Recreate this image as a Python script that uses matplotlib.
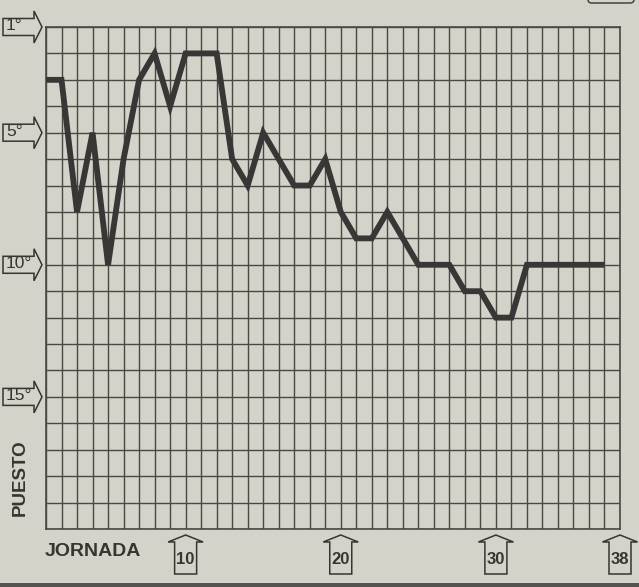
import matplotlib
matplotlib.use("Agg")
import matplotlib.pyplot as plt
from matplotlib import font_manager
from matplotlib.patches import Polygon, Rectangle, FancyBboxPatch
from matplotlib.transforms import ScaledTranslation

# puesto en la clasificacion tras cada jornada
JORNADAS = list(range(1, 38))
PUESTOS = [3, 3, 8, 5, 10, 6, 3, 2, 4, 2, 2, 2, 6, 7, 5, 6, 7, 7, 6, 8,
           9, 9, 8, 9, 10, 10, 10, 11, 11, 12, 12, 10, 10, 10, 10, 10, 10]

N_JORNADAS = 38
N_PUESTOS = 20
PUESTO_MARCAS = [1, 5, 10, 15]
JORNADA_MARCAS = [10, 20, 30, 38]

BG = "#d5d2c9"
INK = "#363532"
GRID = "#4a4844"

names = {f.name for f in font_manager.fontManager.ttflist}
NARROW = "Liberation Sans Narrow" if "Liberation Sans Narrow" in names else "Liberation Sans"
plt.rcParams["font.family"] = ["Liberation Sans", "DejaVu Sans"]

W, H = 639, 587
fig = plt.figure(figsize=(W / 100, H / 100), dpi=100, facecolor=BG)
ax = fig.add_axes([46 / W, 1 - 529 / H, (620 - 46) / W, (529 - 27) / H])
ax.set_facecolor(BG)

ax.set_xlim(1, N_JORNADAS)
ax.set_ylim(N_PUESTOS, 1)
ax.set_xticks(range(1, N_JORNADAS + 1))
ax.set_yticks(range(1, N_PUESTOS + 1))
ax.grid(True, color=GRID, lw=1.0)
ax.tick_params(length=0, labelbottom=False, labelleft=False)
for s in ax.spines.values():
    s.set_color(GRID)
    s.set_linewidth(1.2)

ax.plot(JORNADAS, PUESTOS, color="#383735", lw=4.2,
        solid_joinstyle="miter", solid_capstyle="butt", zorder=5, clip_on=False)


def offset_tr(x, y):
    return fig.dpi_scale_trans + ScaledTranslation(x, y, ax.transData)


# flechas de la izquierda (puestos)
left_shape = [(-43, -8.5), (-12, -8.5), (-12, -16), (-4, 0),
              (-12, 16), (-12, 8.5), (-43, 8.5)]
for p in PUESTO_MARCAS:
    poly = Polygon([(a / 100, b / 100) for a, b in left_shape], closed=True,
                   facecolor=BG, edgecolor=INK, lw=1.1,
                   transform=offset_tr(1, p), clip_on=False)
    ax.add_artist(poly)
    ax.annotate(f"{p}°", xy=(1, p), xycoords="data", xytext=(-40, 1),
                textcoords="offset pixels", ha="left", va="center",
                fontsize=12.5, color=INK, annotation_clip=False)

# flechas de abajo (jornadas)
bottom_shape = [(-11, -45), (11, -45), (11, -13), (17.5, -13), (0, -6),
                (-17.5, -13), (-11, -13)]
for j in JORNADA_MARCAS:
    poly = Polygon([(a / 100, b / 100) for a, b in bottom_shape], closed=True,
                   facecolor=BG, edgecolor=INK, lw=1.1,
                   transform=offset_tr(j, N_PUESTOS), clip_on=False)
    ax.add_artist(poly)
    ax.annotate(str(j), xy=(j, N_PUESTOS), xycoords="data", xytext=(0, -31),
                textcoords="offset pixels", ha="center", va="center",
                fontsize=12, family=NARROW, fontweight="bold", color=INK,
                annotation_clip=False)

fig.text(20 / W, 1 - 478 / H, "PUESTO", rotation=90, ha="center", va="center",
         fontsize=13.5, fontweight="bold", color=INK)
fig.text(45 / W, 1 - 552 / H, "JORNADA", ha="left", va="center",
         fontsize=14, fontweight="bold", color=INK)

# restos del recorte de la pagina
fig.add_artist(Rectangle((0, 0), 1, 4 / H, transform=fig.transFigure,
                         color="#55534f", lw=0))
fig.add_artist(FancyBboxPatch((588 / W, 1 - 3 / H), 46 / W, 20 / H,
                              boxstyle="round,pad=0,rounding_size=0.006",
                              transform=fig.transFigure, facecolor="none",
                              edgecolor=INK, lw=1.0, clip_on=False))

fig.savefig("out.png", dpi=100, facecolor=BG)
